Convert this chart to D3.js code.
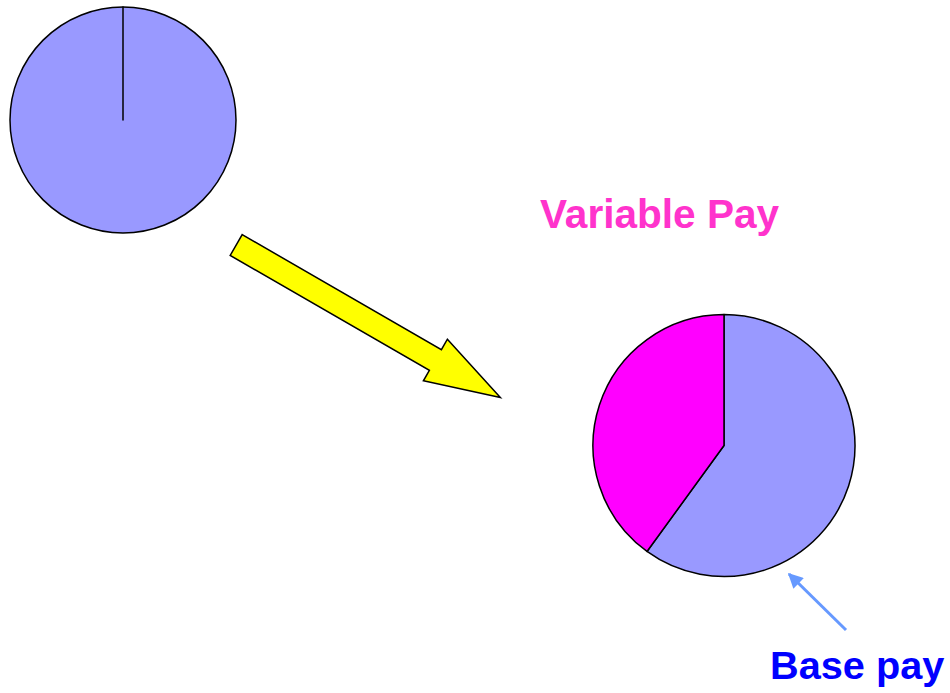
<!DOCTYPE html>
<html>
<head>
<meta charset="utf-8">
<script src="https://cdn.jsdelivr.net/npm/d3@7"></script>
<style>
  html, body { margin: 0; padding: 0; background: #fff; }
  svg { display: block; }
</style>
</head>
<body>
<div id="chart"></div>
<script>
// Pay mix, before and after
const categories = ["Base pay", "Variable Pay"];
const beforeValues = [100, 0];
const afterValues = [60, 40];
const colors = ["#9999ff", "#ff00ff"];

const width = 950;
const height = 693;

const svg = d3.select("#chart")
    .append("svg")
    .attr("width", width)
    .attr("height", height);

const pie = d3.pie().sort(null).value(d => d);

// Draw one pie at a given centre and radius
function drawPie(values, cx, cy, r) {
    const arc = d3.arc().innerRadius(0).outerRadius(r);
    const g = svg.append("g")
        .attr("transform", `translate(${cx},${cy})`);
    g.selectAll("path")
        .data(pie(values))
        .enter()
        .append("path")
        .attr("d", arc)
        .attr("fill", (d, i) => colors[i])
        .attr("stroke", "#000")
        .attr("stroke-width", 1.5)
        .attr("stroke-linejoin", "round");
}

drawPie(beforeValues, 123, 120, 113);
drawPie(afterValues, 724, 445.5, 131);

// Big yellow block arrow between the pies
const arrowLen = 305, shaftHalf = 12, headHalf = 24, headLen = 75;
const arrowShape = [
    [0, -shaftHalf], [arrowLen - headLen, -shaftHalf], [arrowLen - headLen, -headHalf],
    [arrowLen, 0],
    [arrowLen - headLen, headHalf], [arrowLen - headLen, shaftHalf], [0, shaftHalf]
];
svg.append("path")
    .attr("d", d3.line()(arrowShape) + "Z")
    .attr("transform", "translate(236.2,245) rotate(30)")
    .attr("fill", "#ffff00")
    .attr("stroke", "#000")
    .attr("stroke-width", 1.5)
    .attr("stroke-linejoin", "miter");

// Labels
svg.append("text")
    .attr("x", 540)
    .attr("y", 228)
    .style("font-family", "'Liberation Sans', Arial, Helvetica, sans-serif")
    .style("font-weight", "bold")
    .style("font-size", "40.6px")
    .attr("fill", "#ff33cc")
    .text(categories[1]);

svg.append("text")
    .attr("x", 770)
    .attr("y", 678.5)
    .style("font-family", "'Liberation Sans', Arial, Helvetica, sans-serif")
    .style("font-weight", "bold")
    .style("font-size", "39.7px")
    .attr("fill", "#0000ff")
    .text(categories[0]);

// Pointer from "Base pay" to the pie
svg.append("defs").append("marker")
    .attr("id", "head")
    .attr("viewBox", "0 0 10 10")
    .attr("refX", 9)
    .attr("refY", 5)
    .attr("markerWidth", 5.5)
    .attr("markerHeight", 5)
    .attr("markerUnits", "strokeWidth")
    .attr("orient", "auto")
    .append("path")
    .attr("d", "M0,0L10,5L0,10Z")
    .attr("fill", "#6699ff");

svg.append("line")
    .attr("x1", 846)
    .attr("y1", 630)
    .attr("x2", 789)
    .attr("y2", 574)
    .attr("stroke", "#6699ff")
    .attr("stroke-width", 3)
    .attr("marker-end", "url(#head)");
</script>
</body>
</html>
